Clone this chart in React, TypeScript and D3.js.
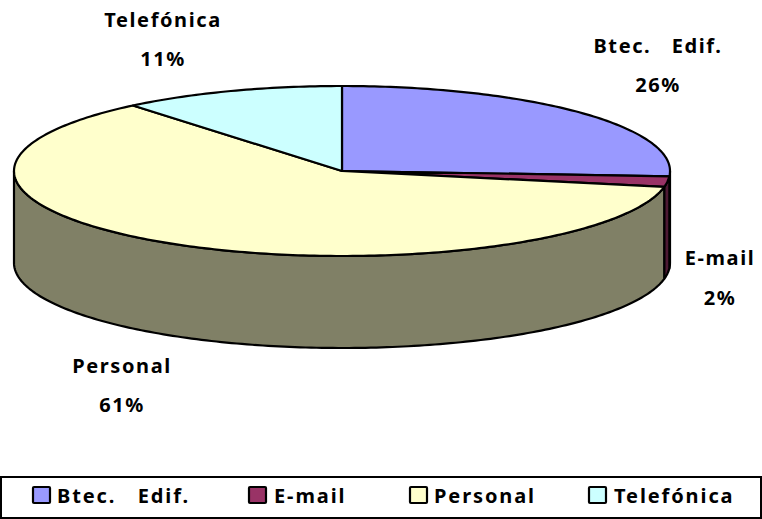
import React from "react";
import * as d3 from "d3";

const categories = ["Btec. Edif.", "E-mail", "Personal", "Telefónica"];
const shares = [26, 2, 61, 11];
const topColors = ["#9999FF", "#993366", "#FFFFCC", "#CCFFFF"];
const sideColors = ["#4D4D80", "#4D1933", "#808066", "#668080"];
const labelLines = [
  { x: 658, y1: 53, y2: 92 },
  { x: 720, y1: 265, y2: 305 },
  { x: 122, y1: 373, y2: 412 },
  { x: 163, y1: 27, y2: 66 },
];
const legendSwatchX = [33, 249, 410, 589];
const legendTextX = [57, 274, 434, 614];

const font = "'Noto Sans', sans-serif";
const cx = 342, cy = 171, rx = 328, ry = 85, depth = 92;

const ex = (a: number) => cx + rx * Math.sin(a);
const ey = (a: number) => cy - ry * Math.cos(a);

export default function App() {
  const arcs = d3.pie<number>().sort(null)(shares);
  const line = d3.line<[number, number]>();
  const samples = (a0: number, a1: number) => {
    const n = Math.max(2, Math.ceil(Math.abs(a1 - a0) * 60));
    return d3.range(n + 1).map((i) => a0 + ((a1 - a0) * i) / n);
  };
  const topPath = (a0: number, a1: number) =>
    line([[cx, cy], ...samples(a0, a1).map((a) => [ex(a), ey(a)] as [number, number])]) + "Z";
  const sidePath = (a0: number, a1: number) => {
    const s = samples(a0, a1);
    const top = s.map((a) => [ex(a), ey(a)] as [number, number]);
    const bot = s.slice().reverse().map((a) => [ex(a), ey(a) + depth] as [number, number]);
    return line([...top, ...bot]) + "Z";
  };
  const front0 = Math.PI / 2, front1 = (3 * Math.PI) / 2;
  return (
    <svg width={762} height={519} style={{ position: "absolute", left: 0, top: 0, background: "#fff" }}>
      <g stroke="#000" strokeWidth={2.2} strokeLinejoin="round">
        {arcs.map((d, i) => {
          const a0 = Math.max(d.startAngle, front0);
          const a1 = Math.min(d.endAngle, front1);
          return a1 > a0 ? <path key={i} d={sidePath(a0, a1)} fill={sideColors[i]} /> : null;
        })}
        {arcs.map((d, i) => (
          <path key={i} d={topPath(d.startAngle, d.endAngle)} fill={topColors[i]} />
        ))}
      </g>
      <g fontFamily={font} fontWeight="bold" fontSize={20} letterSpacing={1.6} textAnchor="middle" fill="#000">
        {categories.map((c, i) => (
          <g key={c}>
            <text x={labelLines[i].x} y={labelLines[i].y1} style={{ whiteSpace: "pre" }}>{c.replace(" ", "   ")}</text>
            <text x={labelLines[i].x} y={labelLines[i].y2}>{shares[i]}%</text>
          </g>
        ))}
      </g>
      <rect x={1} y={477} width={760} height={41} fill="#fff" stroke="#000" strokeWidth={2} />
      {categories.map((c, i) => (
        <g key={c}>
          <rect x={legendSwatchX[i]} y={487} width={17} height={16} rx={1} fill={topColors[i]} stroke="#000" strokeWidth={2.2} />
          <text x={legendTextX[i]} y={503} fontFamily={font} fontWeight="bold" fontSize={20} letterSpacing={1.9} fill="#000" style={{ whiteSpace: "pre" }}>{c.replace(" ", "   ")}</text>
        </g>
      ))}
    </svg>
  );
}
